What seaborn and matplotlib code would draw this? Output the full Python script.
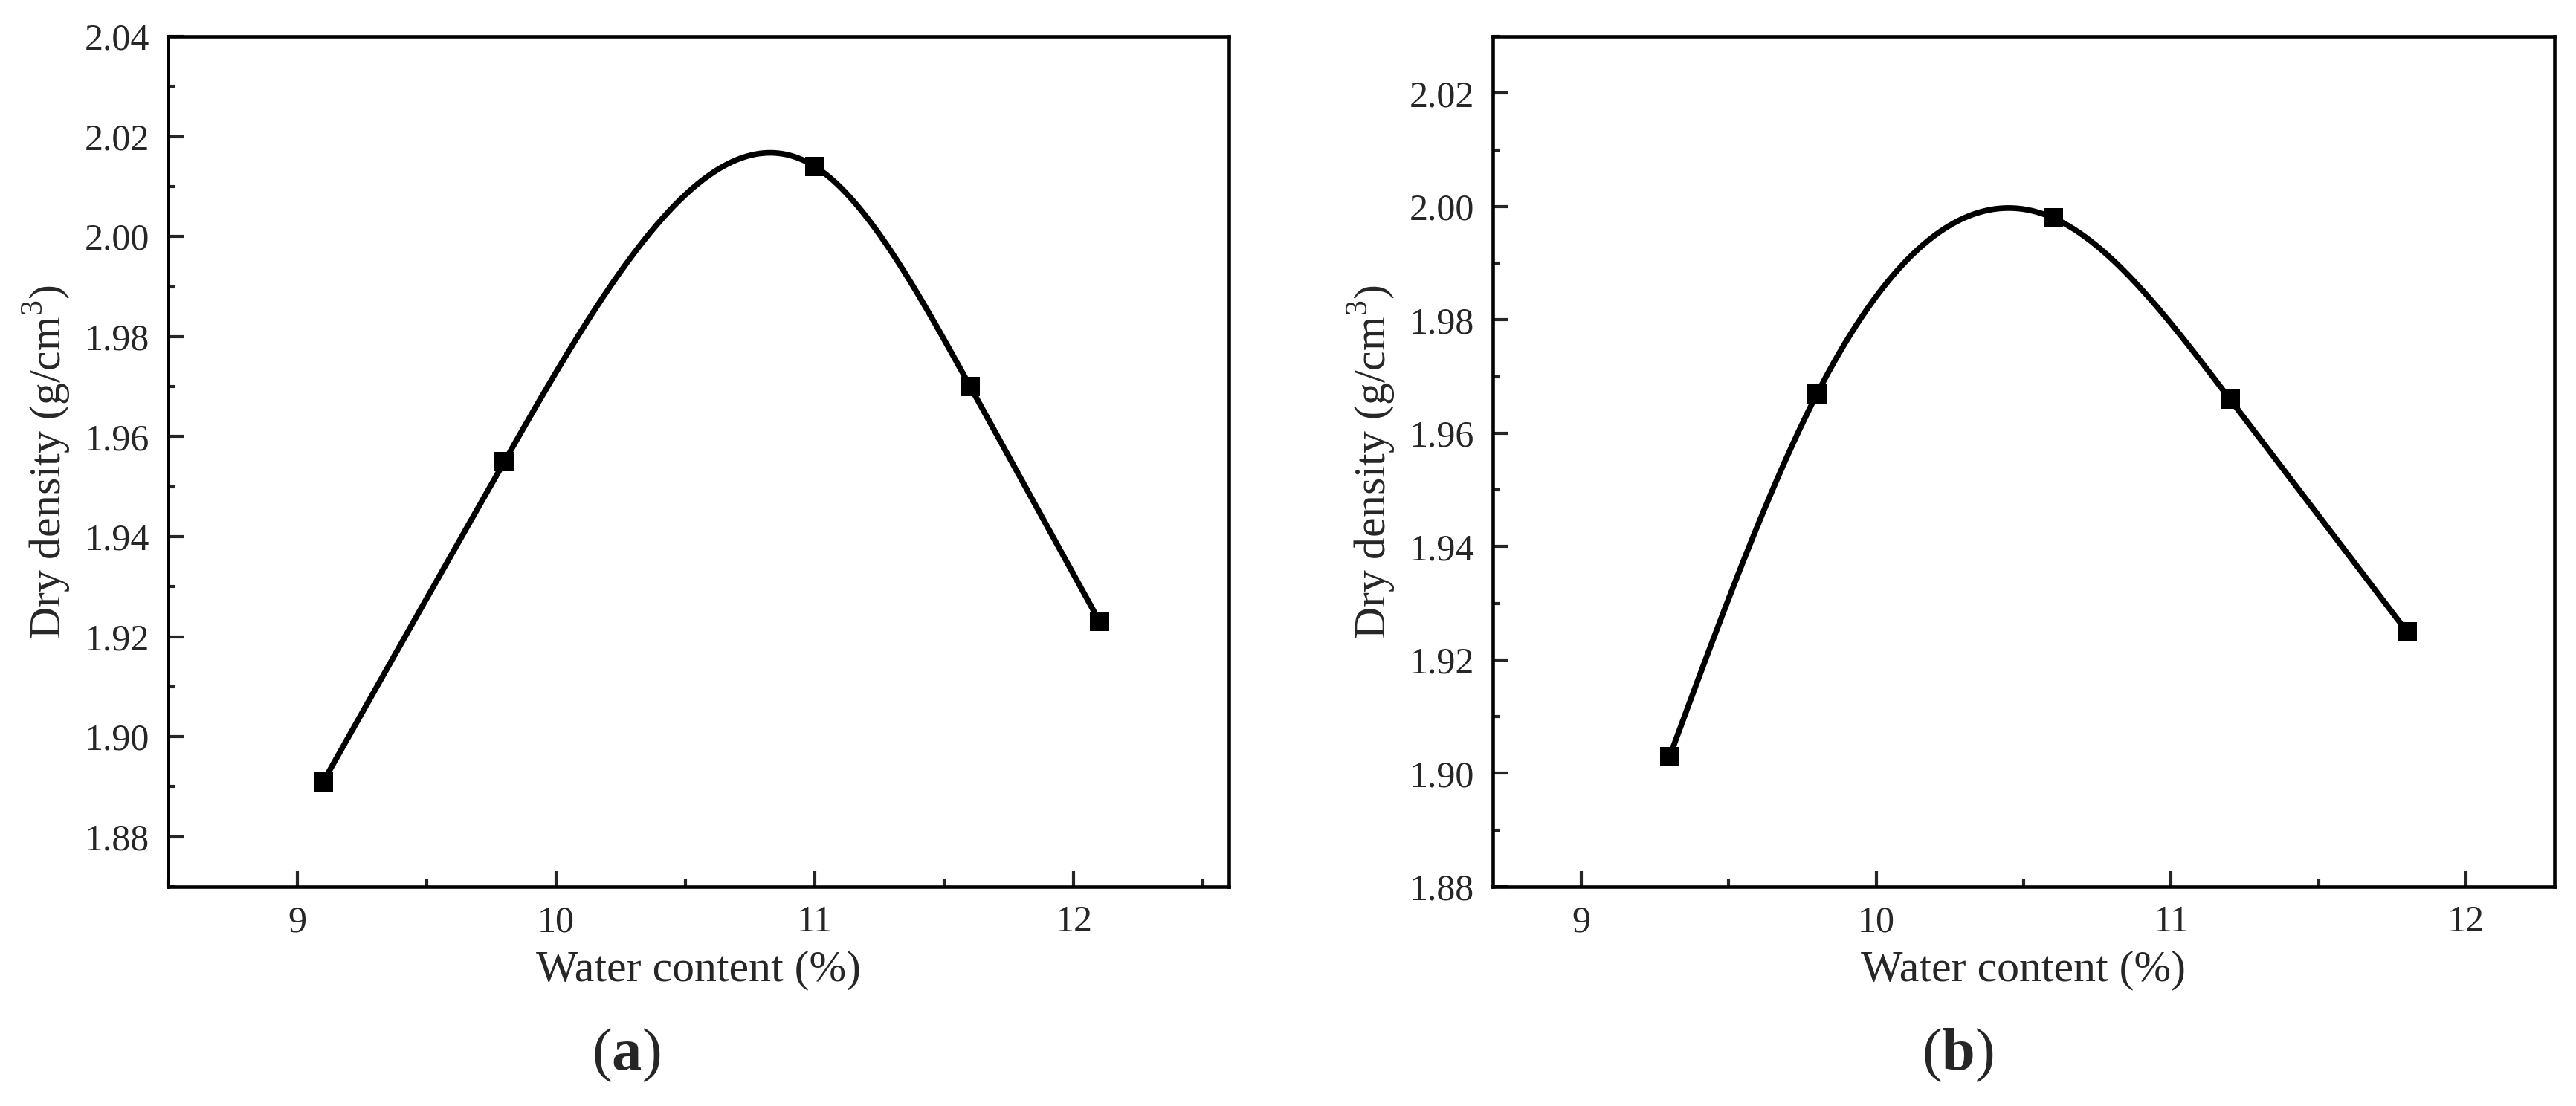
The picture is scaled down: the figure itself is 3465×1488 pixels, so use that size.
import numpy as np
import pandas as pd
import matplotlib
matplotlib.use("Agg")
import matplotlib.pyplot as plt
import seaborn as sns
from matplotlib.ticker import MultipleLocator, FormatStrFormatter

# Compaction test results
water_a = [9.1, 9.8, 11.0, 11.6, 12.1]
density_a = [1.891, 1.955, 2.014, 1.970, 1.923]

water_b = [9.3, 9.8, 10.6, 11.2, 11.8]
density_b = [1.903, 1.967, 1.998, 1.966, 1.925]

panel_tags = ["a", "b"]
xlims = [(8.5, 12.6), (8.7, 12.3)]
ylims = [(1.87, 2.04), (1.88, 2.03)]


def natural_spline(x, y, n=400):
    # smooth connecting curve through the measured points
    x = np.asarray(x, float)
    y = np.asarray(y, float)
    k = len(x)
    h = np.diff(x)
    A = np.zeros((k, k))
    r = np.zeros(k)
    A[0, 0] = A[-1, -1] = 1
    for i in range(1, k - 1):
        A[i, i - 1] = h[i - 1]
        A[i, i] = 2 * (h[i - 1] + h[i])
        A[i, i + 1] = h[i]
        r[i] = 3 * ((y[i + 1] - y[i]) / h[i] - (y[i] - y[i - 1]) / h[i - 1])
    c = np.linalg.solve(A, r)
    b = (y[1:] - y[:-1]) / h - h * (2 * c[:-1] + c[1:]) / 3
    d = (c[1:] - c[:-1]) / (3 * h)
    xs = np.linspace(x[0], x[-1], n)
    idx = np.clip(np.searchsorted(x, xs) - 1, 0, k - 2)
    dx = xs - x[idx]
    ys = y[idx] + b[idx] * dx + c[idx] * dx ** 2 + d[idx] * dx ** 3
    return xs, ys


sns.set_style("ticks")
plt.rcParams["font.family"] = ["Liberation Serif", "DejaVu Serif"]
plt.rcParams["mathtext.fontset"] = "custom"
plt.rcParams["mathtext.rm"] = "Liberation Serif"
plt.rcParams["mathtext.bf"] = "Liberation Serif:bold"

fig = plt.figure(figsize=(34.65, 14.88), dpi=100)
ax_a = fig.add_axes([0.0652, 0.1983, 0.4119, 0.7687])
ax_b = fig.add_axes([0.5795, 0.1983, 0.4121, 0.7687])

datasets = [(water_a, density_a), (water_b, density_b)]
for ax, (wx, dy), xl, yl in zip([ax_a, ax_b], datasets, xlims, ylims):
    xs, ys = natural_spline(wx, dy)
    curve = pd.DataFrame({"w": xs, "d": ys})
    pts = pd.DataFrame({"w": wx, "d": dy})
    sns.lineplot(data=curve, x="w", y="d", ax=ax, color="black", lw=5.5,
                 sort=False, estimator=None)
    sns.scatterplot(data=pts, x="w", y="d", ax=ax, marker="s", s=360,
                    color="black", linewidth=0, zorder=3)

    ax.set_xlim(*xl)
    ax.set_ylim(*yl)
    ax.xaxis.set_major_locator(MultipleLocator(1))
    ax.xaxis.set_minor_locator(MultipleLocator(0.5))
    ax.yaxis.set_major_locator(MultipleLocator(0.02))
    ax.yaxis.set_minor_locator(MultipleLocator(0.01))
    ax.yaxis.set_major_formatter(FormatStrFormatter("%.2f"))
    ax.xaxis.set_major_formatter(FormatStrFormatter("%d"))

    ax.tick_params(which="major", direction="in", length=15, width=3,
                   labelsize=36, pad=18, top=False, right=False)
    ax.tick_params(which="minor", direction="in", length=7.5, width=3,
                   top=False, right=False)
    for sp in ax.spines.values():
        sp.set_visible(True)
        sp.set_linewidth(3.3)
        sp.set_color("black")

    ax.set_xlabel("Water content (%)", fontsize=43, labelpad=10)
    ax.set_ylabel(r"Dry density (g/cm$^{3}$)", fontsize=43, labelpad=12)

for xpos, tag in zip([0.243, 0.760], panel_tags):
    fig.text(xpos, 0.046, rf"($\mathbf{{{tag}}}$)", fontsize=58,
             ha="center", va="center")

fig.savefig("out.png", dpi=100)
